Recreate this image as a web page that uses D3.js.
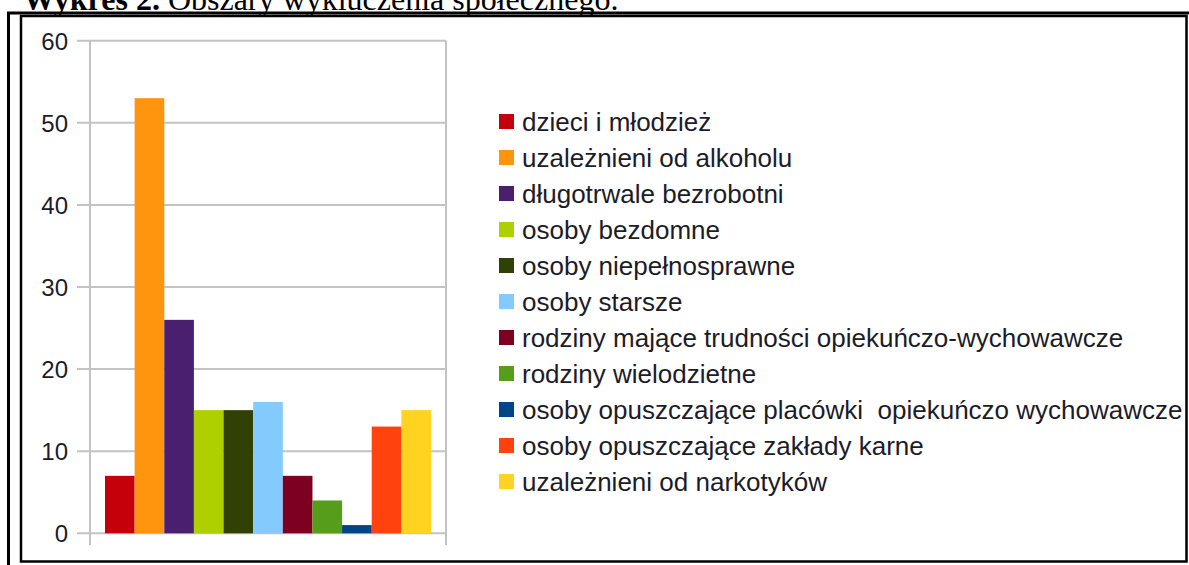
<!DOCTYPE html>
<html>
<head>
<meta charset="utf-8">
<script src="https://cdn.jsdelivr.net/npm/d3@7"></script>
<style>
  html, body { margin: 0; padding: 0; background: #fff; }
  svg { display: block; }
</style>
</head>
<body>
<svg id="chart"></svg>
<script>
const categories = [
  "dzieci i młodzież",
  "uzależnieni od alkoholu",
  "długotrwale bezrobotni",
  "osoby bezdomne",
  "osoby niepełnosprawne",
  "osoby starsze",
  "rodziny mające trudności opiekuńczo-wychowawcze",
  "rodziny wielodzietne",
  "osoby opuszczające placówki  opiekuńczo wychowawcze",
  "osoby opuszczające zakłady karne",
  "uzależnieni od narkotyków"
]
const values = [7, 53, 26, 15, 15, 16, 7, 4, 1, 13, 15]
const colors = ["#c5000b", "#ff950e", "#4b1f6f", "#aecf00", "#314004", "#83caff",
                "#7e0021", "#579d1c", "#004586", "#ff420e", "#ffd320"]
const yTicks = [0, 10, 20, 30, 40, 50, 60]

const W = 1189, H = 565

const svg = d3.select('#chart').attr('width', W).attr('height', H)

// title, cut off at the top of the page like in the scan
const title = svg.append('text')
  .attr('x', 23)
  .attr('y', 10)
  .style('font-family', '"Liberation Serif", "Times New Roman", serif')
  .style('font-size', '32px')
  .style('fill', '#000')
title.append('tspan').style('font-weight', 'bold').text('Wykres 2.')
title.append('tspan').text(' Obszary wykluczenia społecznego.')

// frame lines
svg.append('path')
  .attr('d', 'M8.5,565 V13 H1189')
  .attr('fill', 'none').attr('stroke', '#000').attr('stroke-width', 3)
svg.append('rect')
  .attr('x', 21).attr('y', 16).attr('width', 1165.5).attr('height', 545.5)
  .attr('fill', 'none').attr('stroke', '#000').attr('stroke-width', 2.5)

svg.append('clipPath').attr('id', 'inner')
  .append('rect').attr('x', 22).attr('y', 17).attr('width', 1163).attr('height', 543)

const g = svg.append('g').attr('clip-path', 'url(#inner)')

const plotLeft = 90, plotRight = 446, pad = 15
const y = d3.scaleLinear().domain([0, 60]).range([533.3, 40.7])
const x = d3.scaleBand().domain(categories).range([plotLeft + pad, plotRight - pad]).padding(0)

// grid
g.append('g')
  .selectAll('line')
  .data(yTicks)
  .join('line')
  .attr('x1', plotLeft - 13).attr('x2', plotRight)
  .attr('y1', d => y(d)).attr('y2', d => y(d))
  .attr('stroke', '#c3c3c3').attr('stroke-width', 2)

g.append('g')
  .selectAll('line')
  .data([plotLeft, plotRight])
  .join('line')
  .attr('x1', d => d).attr('x2', d => d)
  .attr('y1', y(60)).attr('y2', y(0) + 12)
  .attr('stroke', '#c3c3c3').attr('stroke-width', 2)

// bars
g.append('g')
  .selectAll('rect')
  .data(values)
  .join('rect')
  .attr('x', (d, i) => x(categories[i]))
  .attr('width', x.bandwidth())
  .attr('y', d => y(d))
  .attr('height', d => y(0) - y(d))
  .attr('fill', (d, i) => colors[i])

// y axis labels
const axis = d3.axisLeft(y).tickValues(yTicks).tickSize(0).tickPadding(0)
const axisNodes = g.append('g')
  .attr('transform', 'translate(68,0)')
  .call(axis)
axisNodes.select('.domain').remove()
axisNodes.selectAll('text')
  .attr('dy', '0.36em')
  .style('font-family', '"Liberation Sans", Arial, sans-serif')
  .style('font-size', '24px')
  .style('fill', '#1c1c28')

// legend
const legend = g.append('g')
  .selectAll('g')
  .data(categories)
  .join('g')
  .attr('transform', (d, i) => 'translate(499,' + (122 + i * 36) + ')')

legend.append('rect')
  .attr('x', 0).attr('y', -8)
  .attr('width', 15).attr('height', 15)
  .attr('fill', (d, i) => colors[i])

legend.append('text')
  .attr('x', 23)
  .attr('dy', '0.36em')
  .style('font-family', '"Liberation Sans", Arial, sans-serif')
  .style('font-size', '26px')
  .style('fill', '#1c1c28')
  .style('white-space', 'pre')
  .text(d => d)
</script>
</body>
</html>
